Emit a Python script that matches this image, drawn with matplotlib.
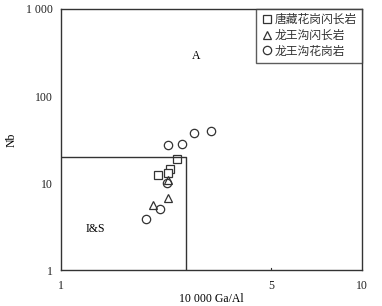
import matplotlib
matplotlib.use("Agg")
import matplotlib.pyplot as plt
from matplotlib.ticker import FixedLocator, NullLocator

plt.rcParams['font.family'] = ['Liberation Serif', 'Noto Sans CJK SC']

# 10000 Ga/Al vs Nb
tz_x = [2.43, 2.30, 2.26, 2.10]
tz_y = [18.7, 14.6, 12.9, 12.3]
lwg_dio_x = [2.27, 2.26, 2.02]
lwg_dio_y = [10.8, 6.7, 5.6]
lwg_gra_x = [2.27, 2.53, 2.76, 3.14, 2.25, 2.14, 1.91]
lwg_gra_y = [27.3, 27.9, 37.3, 39.3, 10.1, 5.0, 3.86]

labels = ['唐藏花岗闪长岩', '龙王沟闪长岩', '龙王沟花岗岩']
box_x = 2.6
box_y = 20

fig = plt.figure(figsize=(3.82, 3.06), dpi=100)
ax = fig.add_axes([0.1597, 0.1176, 0.7879, 0.853])

ink = '#333333'
ms = 6
ax.plot(tz_x, tz_y, 's', ms=ms, mfc='white', mec=ink, mew=0.9, label=labels[0])
ax.plot(lwg_dio_x, lwg_dio_y, '^', ms=ms, mfc='none', mec=ink, mew=0.9, label=labels[1])
ax.plot(lwg_gra_x, lwg_gra_y, 'o', ms=ms, mfc='none', mec=ink, mew=0.9, label=labels[2])

# discrimination field boundary
ax.plot([1, box_x, box_x], [box_y, box_y, 1], color=ink, lw=1)

ax.set_xscale('log')
ax.set_yscale('log')
ax.set_xlim(1, 10)
ax.set_ylim(1, 1000)

ax.xaxis.set_major_locator(FixedLocator([1, 5, 10]))
ax.xaxis.set_minor_locator(NullLocator())
ax.set_xticklabels(['1', '5', '10'])
ax.yaxis.set_major_locator(FixedLocator([1, 10, 100, 1000]))
ax.yaxis.set_minor_locator(NullLocator())
ax.set_yticklabels(['1', '10', '100', '1 000'])
ax.tick_params(axis='both', direction='in', length=0, labelsize=8.5, colors='#222222', pad=6)
ax.tick_params(axis='x', pad=7)
ax.plot([5, 5], [1, 1.05], color=ink, lw=0.8)

for s in ax.spines.values():
    s.set_color(ink)
    s.set_linewidth(1)

ax.set_xlabel('10 000 Ga/Al', fontsize=8.5, labelpad=1)
ax.set_ylabel('Nb', fontsize=8.5, labelpad=6)

ax.text(2.81, 288, 'A', fontsize=8.5, ha='center', va='center')
ax.text(1.30, 2.96, 'I&S', fontsize=8.5, ha='center', va='center')

leg = ax.legend(loc='upper right', prop={'size': 8.5}, frameon=True, fancybox=False,
                edgecolor=ink, borderpad=0.45, handletextpad=0.15, handlelength=1.0,
                labelspacing=0.3, borderaxespad=0)
leg.get_frame().set_linewidth(1)
leg._legend_box.align = 'left'
for t in leg.get_texts():
    t.set_color('#333333')
leg.set_bbox_to_anchor((1.0, 1.0))
leg._loc = 1
leg.borderpad = 0.45

fig.savefig('out.png', dpi=100)
